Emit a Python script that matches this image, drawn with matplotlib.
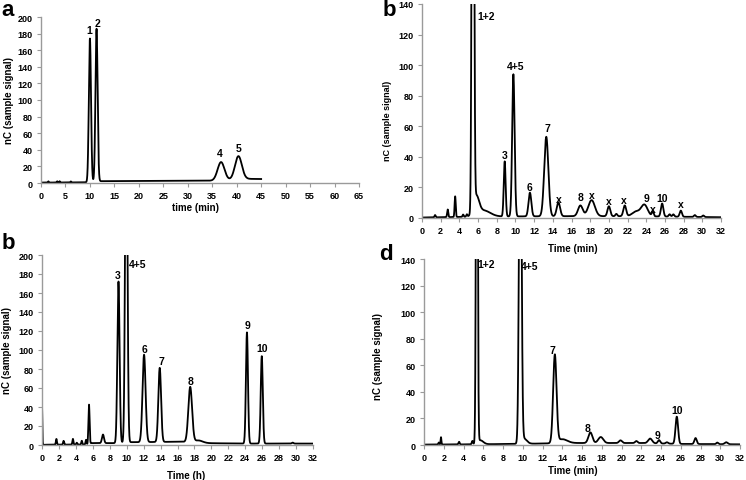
import numpy as np
import matplotlib
matplotlib.use('Agg')
import matplotlib.pyplot as plt

plt.rcParams['font.family'] = ['Liberation Sans', 'DejaVu Sans']
plt.rcParams['font.weight'] = 'bold'

# panel a: peak retention time (min), height above baseline, width (sigma)
a_rt = [1.5, 3.3, 3.8, 6.1, 10.0, 11.35, 36.8, 40.35]
a_h = [1.5, 1.5, 1.5, 1.2, 173, 184, 22, 28]
a_w = [0.08, 0.08, 0.08, 0.08, 0.22, 0.22, 0.7, 0.7]
a_base_t = [0, 9.5, 12, 35, 38, 42, 45]
a_base_y = [0.5, 0.8, 2.2, 2.8, 3.5, 5.0, 4.8]
a_labels = ['1', '2', '4', '5']
a_lab_x = [9.8, 11.5, 36.6, 40.3]
a_lab_y = [184, 193, 36, 42]

# panel b (top right): time in min
b1_rt = [1.4, 2.75, 3.55, 4.4, 4.8, 5.45, 5.8, 6.6, 8.85, 9.78, 11.55, 13.3, 14.6,
         16.95, 18.15, 20.0, 20.8, 21.7, 22.9, 23.8, 24.7, 25.7, 26.5, 26.9, 27.7, 29.2, 30.1]
b1_h = [1.5, 5, 13.5, 1.5, 1.5, 600, 12, 4, 36, 93, 15.5, 52, 9,
        7, 10.5, 6.5, 1.5, 7, 3, 7.5, 3, 8.5, 1.5, 1.5, 4, 1.2, 1]
b1_w = [0.06, 0.06, 0.06, 0.06, 0.06, 0.1, 0.3, 0.7, 0.1, 0.13, 0.15, 0.22, 0.18,
        0.25, 0.35, 0.15, 0.1, 0.15, 0.4, 0.35, 0.1, 0.13, 0.1, 0.1, 0.12, 0.1, 0.1]
b1_base_t = [0, 5, 8, 16, 23, 28, 32]
b1_base_y = [0.3, 0.8, 1.0, 1.2, 1.2, 0.8, 0.5]
b1_labels = ['1+2', '3', '4+5', '6', '7', 'x', '8', 'x', 'x', 'x', '9', 'x', '10', 'x']
b1_lab_x = [6.85, 8.8, 10.0, 11.5, 13.4, 14.6, 17.0, 18.2, 20.0, 21.65, 24.0, 24.7, 25.7, 27.65]
b1_lab_y = [132, 41, 99.5, 20, 59, 12.6, 13.7, 14.8, 11, 11.5, 13, 6, 13, 9]

# panel b (bottom left): time in h
b2_rt = [0.0, 1.7, 2.55, 3.65, 4.1, 4.7, 5.2, 5.55, 7.2, 9.03, 9.95, 12.05, 13.9,
         17.5, 18.5, 24.2, 25.95, 29.6]
b2_h = [41, 6, 4, 6, 2, 4, 5, 42, 9, 170, 400, 92, 78, 58, 2.5, 117, 92, 1]
b2_w = [0.04, 0.06, 0.06, 0.06, 0.06, 0.06, 0.06, 0.07, 0.12, 0.13, 0.13, 0.18, 0.16,
        0.22, 0.5, 0.12, 0.12, 0.1]
b2_base_t = [0, 0.3, 5.6, 5.8, 8.9, 10.5, 11.5, 16.5, 19, 23.5, 27, 32]
b2_base_y = [0, 0.3, 0.5, 2, 2, 3, 3, 3.5, 2, 1.5, 1.5, 1.5]
b2_labels = ['3', '4+5', '6', '7', '8', '9', '10']
b2_lab_x = [8.95, 11.3, 12.05, 14.05, 17.55, 24.26, 26.0]
b2_lab_y = [179, 190, 101, 88.6, 67.6, 126, 102.6]

# panel d: time in min
d_rt = [1.5, 1.72, 3.55, 4.9, 5.35, 5.7, 9.75, 10.1, 13.25, 14.0, 16.85, 17.9, 19.9,
        21.5, 22.9, 23.8, 24.6, 25.6, 27.5, 29.7, 30.6]
d_h = [1.5, 5.5, 2, 2.5, 400, 3, 300, 4, 66, 3, 8, 4.5, 2, 1.5, 3.5, 2.5, 1, 20.5, 4.5, 1.2, 1.5]
d_w = [0.05, 0.04, 0.06, 0.06, 0.08, 0.3, 0.12, 0.3, 0.17, 0.5, 0.2, 0.25, 0.15,
       0.12, 0.2, 0.12, 0.12, 0.13, 0.12, 0.1, 0.15]
d_base_t = [0, 5, 9, 11, 15, 22, 26, 32]
d_base_y = [0.3, 0.5, 0.8, 1.0, 1.5, 1.5, 0.8, 0.5]
d_labels = ['1+2', '4+5', '7', '8', '9', '10']
d_lab_x = [6.32, 10.7, 12.97, 16.6, 23.6, 25.6]
d_lab_y = [136, 135, 71.6, 13, 7.3, 26.4]


def trace(t0, t1, rt, h, w, base_t, base_y):
    t = np.linspace(t0, t1, 8000)
    y = np.interp(t, base_t, base_y)
    for r, hh, ww in zip(rt, h, w):
        y = y + hh * np.exp(-0.5 * ((t - r) / ww) ** 2)
    return t, y


def style(ax, xmax, xstep, ymax, ystep, xlabel, xlab_pos, ylab_pos, ylab_size=7):
    for s in ['top', 'right']:
        ax.spines[s].set_visible(False)
    for s in ['left', 'bottom']:
        ax.spines[s].set_color('#9a9a9a')
        ax.spines[s].set_linewidth(1.0)
    ax.set_xlim(0, xmax)
    ax.set_ylim(0, ymax)
    ax.set_xticks(np.arange(0, xmax + 0.1, xstep))
    ax.set_yticks(np.arange(0, ymax + 0.1, ystep))
    ax.tick_params(direction='out', length=3, width=0.8, color='#9a9a9a',
                   labelsize=6.5, pad=3)
    for lab in ax.get_xticklabels() + ax.get_yticklabels():
        lab.set_fontweight('bold')
    ax.set_xlabel(xlabel, fontsize=7, fontweight='bold')
    ax.set_ylabel('nC (sample signal)', fontsize=ylab_size, fontweight='bold')
    ax.xaxis.set_label_coords(*xlab_pos)
    ax.yaxis.set_label_coords(*ylab_pos)


fig = plt.figure(figsize=(7.46, 4.81), dpi=100)
W, H = 746, 481


def add_ax(l, t, r, b):
    return fig.add_axes([l / W, 1 - b / H, (r - l) / W, (b - t) / H])


ax_a = add_ax(41, 18, 359, 184)
ax_b1 = add_ax(422, 5, 721, 219)
ax_b2 = add_ax(42, 256, 313, 446)
ax_d = add_ax(424, 260, 740, 446)

panels = [
    (ax_a, 0, 45, a_rt, a_h, a_w, a_base_t, a_base_y, a_labels, a_lab_x, a_lab_y),
    (ax_b1, 0, 32, b1_rt, b1_h, b1_w, b1_base_t, b1_base_y, b1_labels, b1_lab_x, b1_lab_y),
    (ax_b2, 0, 32, b2_rt, b2_h, b2_w, b2_base_t, b2_base_y, b2_labels, b2_lab_x, b2_lab_y),
    (ax_d, 0, 32, d_rt, d_h, d_w, d_base_t, d_base_y, d_labels, d_lab_x, d_lab_y),
]
for ax, t0, t1, rt, h, w, bt, by, labs, lx, ly in panels:
    t, y = trace(t0, t1, rt, h, w, bt, by)
    ax.plot(t, y, color='black', lw=1.3, solid_joinstyle='round')
    for s, x0, y0 in zip(labs, lx, ly):
        ax.text(x0, y0, s, fontsize=7.5, fontweight='bold', ha='center', va='center')

style(ax_a, 65, 5, 200, 20, 'time (min)', (0.485, -0.114), (-0.085, 0.5))
style(ax_b1, 32, 2, 140, 20, 'Time (min)', (0.505, -0.117), (-0.10, 0.46), ylab_size=6.5)
style(ax_b2, 32, 2, 200, 20, 'Time (h)', (0.53, -0.132), (-0.111, 0.5))
style(ax_d, 32, 2, 140, 20, 'Time (min)', (0.47, -0.108), (-0.13, 0.48))

# panel letters
for s, px, py in [('a', 8, 10), ('b', 389, 10), ('b', 8, 244), ('d', 386, 255)]:
    fig.text(px / W, 1 - py / H, s, fontsize=16, fontweight='bold', ha='center', va='center')

fig.savefig('out.png', dpi=100)
